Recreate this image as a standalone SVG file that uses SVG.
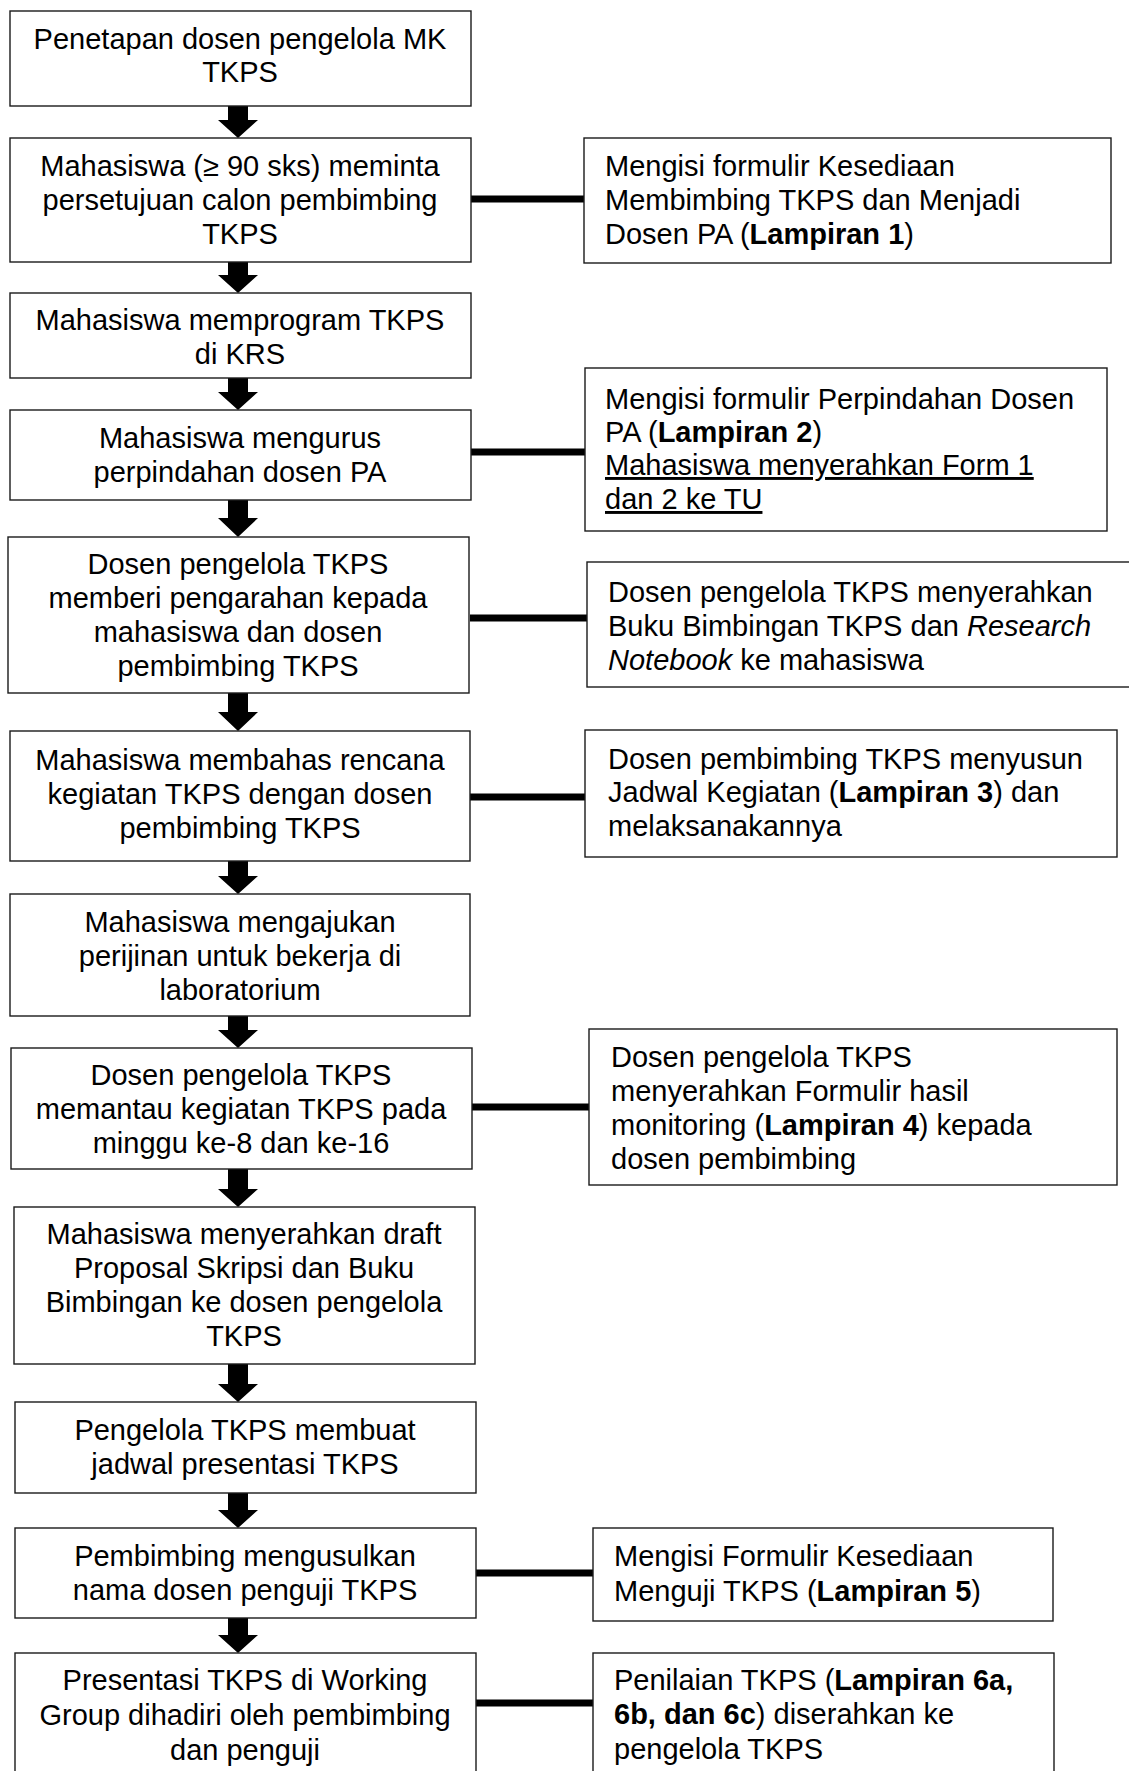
<svg xmlns="http://www.w3.org/2000/svg" width="1129" height="1771" viewBox="0 0 1129 1771">
<style>
.box{fill:#fff;stroke:#1a1a1a;stroke-width:1.4}
.t{font-family:"Liberation Sans",Arial,sans-serif;font-size:29px;fill:#000}
.c{text-anchor:middle}
.b{font-weight:bold}
.i{font-style:italic}
.u{text-decoration:underline}
.conn{stroke:#000;stroke-width:7;fill:none}
.arr{fill:#000}
</style>
<rect width="1129" height="1771" fill="#fff"/>

<g id="connectors">
<line class="conn" x1="471" y1="199" x2="584" y2="199"/>
<line class="conn" x1="471" y1="452" x2="585" y2="452"/>
<line class="conn" x1="470" y1="618" x2="587" y2="618"/>
<line class="conn" x1="470" y1="797" x2="585" y2="797"/>
<line class="conn" x1="472" y1="1107" x2="589" y2="1107"/>
<line class="conn" x1="476" y1="1573" x2="593" y2="1573"/>
<line class="conn" x1="476" y1="1703" x2="593" y2="1703"/>
<path class="arr" d="M228,106 H248 V120 H258 L238,138 L218,120 H228 Z"/>
<path class="arr" d="M228,262 H248 V275 H258 L238,293 L218,275 H228 Z"/>
<path class="arr" d="M228,378 H248 V392 H258 L238,410 L218,392 H228 Z"/>
<path class="arr" d="M228,500 H248 V518 H258 L238,537 L218,518 H228 Z"/>
<path class="arr" d="M228,693 H248 V712 H258 L238,731 L218,712 H228 Z"/>
<path class="arr" d="M228,861 H248 V876 H258 L238,894 L218,876 H228 Z"/>
<path class="arr" d="M228,1016 H248 V1030 H258 L238,1048 L218,1030 H228 Z"/>
<path class="arr" d="M228,1169 H248 V1189 H258 L238,1207 L218,1189 H228 Z"/>
<path class="arr" d="M228,1364 H248 V1384 H258 L238,1402 L218,1384 H228 Z"/>
<path class="arr" d="M228,1493 H248 V1510 H258 L238,1528 L218,1510 H228 Z"/>
<path class="arr" d="M228,1618 H248 V1635 H258 L238,1653 L218,1635 H228 Z"/>
</g>

<g id="n1">
<rect class="box" x="10" y="11" width="461" height="95"/>
<text class="t c" x="240" y="48.5">Penetapan dosen pengelola MK</text>
<text class="t c" x="240" y="82">TKPS</text>
</g>
<g id="n2">
<rect class="box" x="10" y="138" width="461" height="124"/>
<text class="t c" x="240" y="176">Mahasiswa (≥ 90 sks) meminta</text>
<text class="t c" x="240" y="210">persetujuan calon pembimbing</text>
<text class="t c" x="240" y="244">TKPS</text>
</g>
<g id="n3">
<rect class="box" x="10" y="293" width="461" height="85"/>
<text class="t c" x="240" y="330">Mahasiswa memprogram TKPS</text>
<text class="t c" x="240" y="364">di KRS</text>
</g>
<g id="n4">
<rect class="box" x="10" y="410" width="461" height="90"/>
<text class="t c" x="240" y="448">Mahasiswa mengurus</text>
<text class="t c" x="240" y="482">perpindahan dosen PA</text>
</g>
<g id="n5">
<rect class="box" x="8" y="537" width="461" height="156"/>
<text class="t c" x="238" y="574">Dosen pengelola TKPS</text>
<text class="t c" x="238" y="608">memberi pengarahan kepada</text>
<text class="t c" x="238" y="642">mahasiswa dan dosen</text>
<text class="t c" x="238" y="676">pembimbing TKPS</text>
</g>
<g id="n6">
<rect class="box" x="10" y="731" width="460" height="130"/>
<text class="t c" x="240" y="770">Mahasiswa membahas rencana</text>
<text class="t c" x="240" y="804">kegiatan TKPS dengan dosen</text>
<text class="t c" x="240" y="838">pembimbing TKPS</text>
</g>
<g id="n7">
<rect class="box" x="10" y="894" width="460" height="122"/>
<text class="t c" x="240" y="932">Mahasiswa mengajukan</text>
<text class="t c" x="240" y="966">perijinan untuk bekerja di</text>
<text class="t c" x="240" y="1000">laboratorium</text>
</g>
<g id="n8">
<rect class="box" x="11" y="1048" width="461" height="121"/>
<text class="t c" x="241" y="1085">Dosen pengelola TKPS</text>
<text class="t c" x="241" y="1119">memantau kegiatan TKPS pada</text>
<text class="t c" x="241" y="1153">minggu ke-8 dan ke-16</text>
</g>
<g id="n9">
<rect class="box" x="14" y="1207" width="461" height="157"/>
<text class="t c" x="244" y="1244">Mahasiswa menyerahkan draft</text>
<text class="t c" x="244" y="1278">Proposal Skripsi dan Buku</text>
<text class="t c" x="244" y="1312">Bimbingan ke dosen pengelola</text>
<text class="t c" x="244" y="1346">TKPS</text>
</g>
<g id="n10">
<rect class="box" x="15" y="1402" width="461" height="91"/>
<text class="t c" x="245" y="1440">Pengelola TKPS membuat</text>
<text class="t c" x="245" y="1474">jadwal presentasi TKPS</text>
</g>
<g id="n11">
<rect class="box" x="15" y="1528" width="461" height="90"/>
<text class="t c" x="245" y="1566">Pembimbing mengusulkan</text>
<text class="t c" x="245" y="1600">nama dosen penguji TKPS</text>
</g>
<g id="n12">
<rect class="box" x="15" y="1653" width="461" height="140"/>
<text class="t c" x="245" y="1690">Presentasi TKPS di Working</text>
<text class="t c" x="245" y="1725">Group dihadiri oleh pembimbing</text>
<text class="t c" x="245" y="1760">dan penguji</text>
</g>

<g id="r1">
<rect class="box" x="584" y="138" width="527" height="125"/>
<text class="t" x="605" y="176">Mengisi formulir Kesediaan</text>
<text class="t" x="605" y="210">Membimbing TKPS dan Menjadi</text>
<text class="t" x="605" y="244">Dosen PA (<tspan class="b">Lampiran 1</tspan>)</text>
</g>
<g id="r2">
<rect class="box" x="585" y="368" width="522" height="163"/>
<text class="t" x="605" y="409">Mengisi formulir Perpindahan Dosen</text>
<text class="t" x="605" y="442">PA (<tspan class="b">Lampiran 2</tspan>)</text>
<text class="t u" x="605" y="475">Mahasiswa menyerahkan Form 1</text>
<text class="t u" x="605" y="509">dan 2 ke TU</text>
</g>
<g id="r3">
<rect class="box" x="587" y="562" width="560" height="125"/>
<text class="t" x="608" y="602">Dosen pengelola TKPS menyerahkan</text>
<text class="t" x="608" y="636">Buku Bimbingan TKPS dan <tspan class="i">Research</tspan></text>
<text class="t" x="608" y="670"><tspan class="i">Notebook</tspan> ke mahasiswa</text>
</g>
<g id="r4">
<rect class="box" x="585" y="730" width="532" height="127"/>
<text class="t" x="608" y="768.5">Dosen pembimbing TKPS menyusun</text>
<text class="t" x="608" y="802">Jadwal Kegiatan (<tspan class="b">Lampiran 3</tspan>) dan</text>
<text class="t" x="608" y="835.5">melaksanakannya</text>
</g>
<g id="r5">
<rect class="box" x="589" y="1029" width="528" height="156"/>
<text class="t" x="611" y="1067">Dosen pengelola TKPS</text>
<text class="t" x="611" y="1101">menyerahkan Formulir hasil</text>
<text class="t" x="611" y="1135">monitoring (<tspan class="b">Lampiran 4</tspan>) kepada</text>
<text class="t" x="611" y="1169">dosen pembimbing</text>
</g>
<g id="r6">
<rect class="box" x="593" y="1528" width="460" height="93"/>
<text class="t" x="614" y="1566">Mengisi Formulir Kesediaan</text>
<text class="t" x="614" y="1601">Menguji TKPS (<tspan class="b">Lampiran 5</tspan>)</text>
</g>
<g id="r7">
<rect class="box" x="593" y="1653" width="461" height="140"/>
<text class="t" x="614" y="1690">Penilaian TKPS (<tspan class="b">Lampiran 6a,</tspan></text>
<text class="t" x="614" y="1724"><tspan class="b">6b, dan 6c</tspan>) diserahkan ke</text>
<text class="t" x="614" y="1759">pengelola TKPS</text>
</g>
</svg>
